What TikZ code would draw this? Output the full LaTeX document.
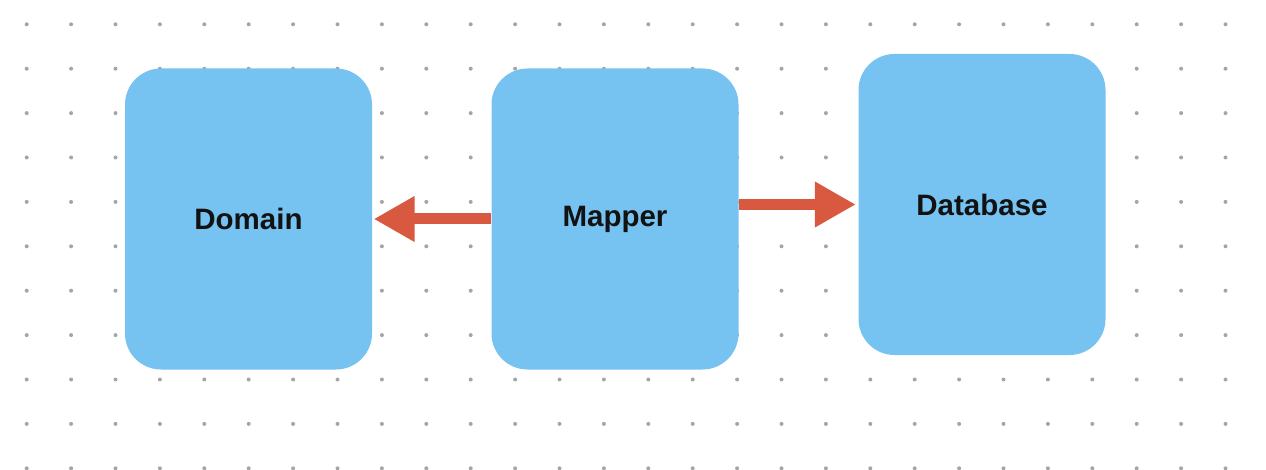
\documentclass[tikz,border=0pt]{standalone}
\usepackage{fontspec}
\setmainfont{Liberation Sans}
\usepackage{tikz}
\usetikzlibrary{arrows.meta,calc,positioning}
\definecolor{boxblue}{RGB}{118,194,241}
\definecolor{arrowred}{RGB}{217,88,64}
\definecolor{dotgray}{RGB}{165,165,165}
\tikzset{
  layerbox/.style={fill=boxblue,draw=none,rounded corners=36pt,minimum width=247pt,minimum height=301pt,font=\bfseries\fontsize{29.5}{32}\selectfont,text=black!93},
  flowarrow/.style={draw=arrowred,line width=11pt,-{Triangle[length=41pt,width=43pt]}}
}
\begin{document}
\begin{tikzpicture}[x=1pt,y=-1pt]
\useasboundingbox (0,0) rectangle (1266,470);
\foreach \i in {0,...,27}
  \foreach \j in {0,...,10}
    \fill[dotgray] (26.7+44.4*\i,24.3+44.4*\j) circle (2pt);
\node[layerbox] (Domain) at (248.5,219) {Domain};
\node[layerbox] (Mapper) at (615,219) {Mapper};
\node[layerbox] (Database) at (982,204.5) {Database};
\draw[flowarrow] (Mapper.west) -- ($(Domain.east)+(1.5,0)$);
\draw[flowarrow] (Mapper.east |- Database.west) -- ($(Database.west)+(-2.5,0)$);
\end{tikzpicture}
\end{document}
